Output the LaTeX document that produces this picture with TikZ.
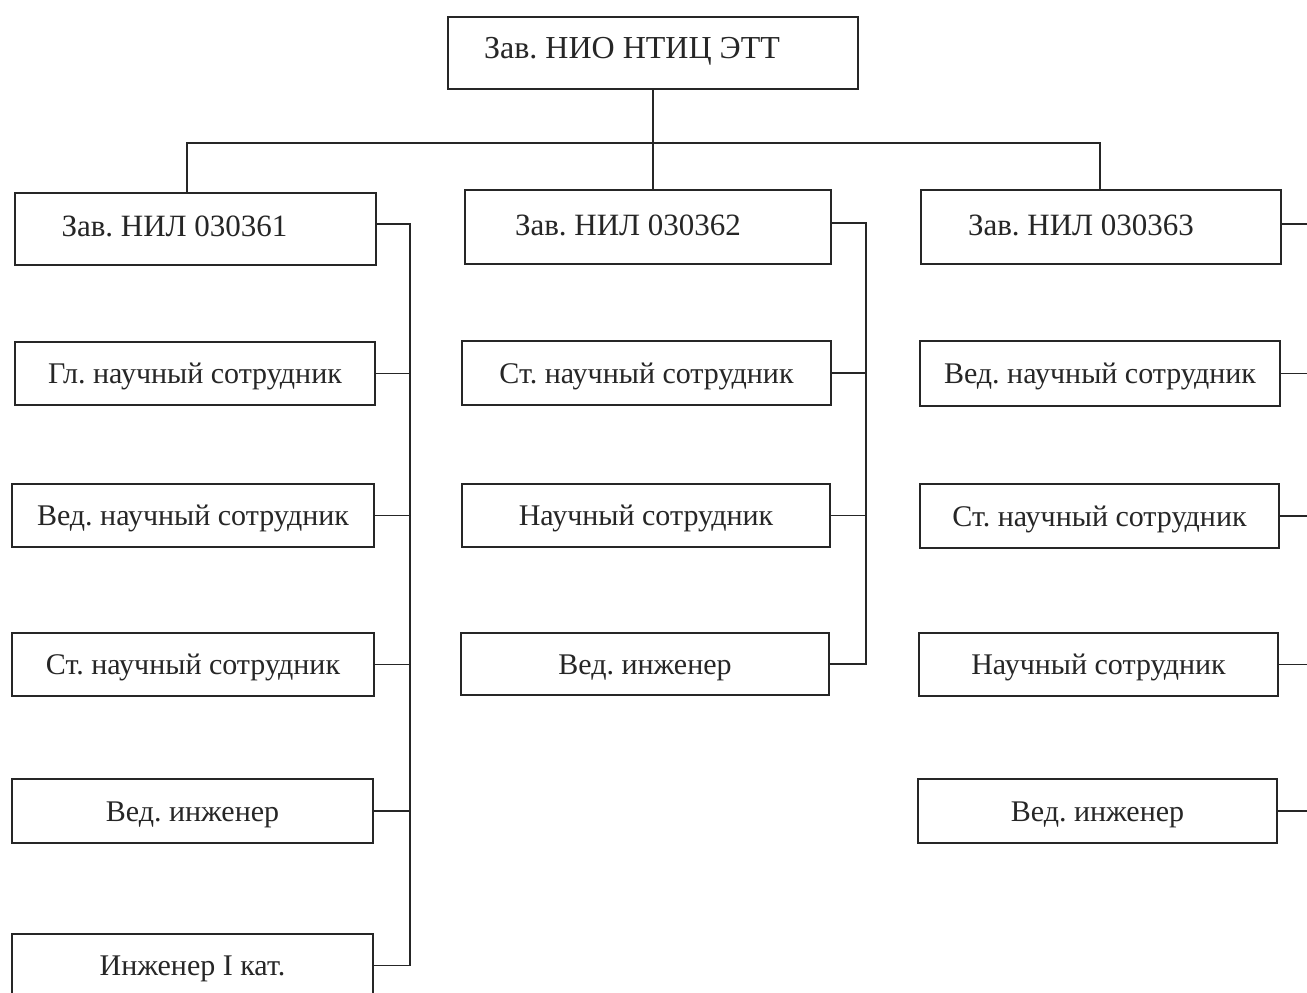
\documentclass[tikz,border=0pt]{standalone}
\usepackage{fontspec}
\setmainfont{Liberation Serif}
\frenchspacing
\begin{document}
\begin{tikzpicture}[x=1pt,y=-1pt,
  line width=1.9pt, color=black!85,
  box/.style={draw, rectangle, inner sep=0pt, text height=24pt, text depth=4pt,
    font=\fontsize{30}{33}\selectfont},
  head/.style={draw, rectangle, inner sep=0pt},
  conn/.style={line width=1.9pt}]
\useasboundingbox (0,0) rectangle (1307,993);
\clip (0,0) rectangle (1307,993);
\fill[white] (0,0) rectangle (1307,993);
% top
\node[head, minimum width=410pt, minimum height=72pt,
  label={[xshift=-21pt,yshift=2pt,font=\fontsize{32}{36}\selectfont]center:Зав. НИО НТИЦ ЭТТ}] (T) at (653,53) {};
% column A
\node[head, minimum width=361pt, minimum height=72pt,
  label={[xshift=-21pt,yshift=3pt,font=\fontsize{31}{35}\selectfont]center:Зав. НИЛ 030361}] (A0) at (195.5,229) {};
\node[box, minimum width=360pt, minimum height=63pt] (A1) at (195,373.5) {Гл. научный сотрудник};
\node[box, minimum width=362pt, minimum height=63pt] (A2) at (193,515.5) {Вед. научный сотрудник};
\node[box, minimum width=362pt, minimum height=63pt] (A3) at (193,664.5) {Ст. научный сотрудник};
\node[box, minimum width=361pt, minimum height=64pt] (A4) at (192.5,811) {Вед. инженер};
\node[box, minimum width=361pt, minimum height=63pt] (A5) at (192.5,965.5) {Инженер I кат.};
% column B
\node[head, minimum width=366pt, minimum height=74pt,
  label={[xshift=-20pt,yshift=2pt,font=\fontsize{31}{35}\selectfont]center:Зав. НИЛ 030362}] (B0) at (648,227) {};
\node[box, minimum width=369pt, minimum height=64pt] (B1) at (646.5,373) {Ст. научный сотрудник};
\node[box, minimum width=368pt, minimum height=63pt] (B2) at (646,515.5) {Научный сотрудник};
\node[box, minimum width=368pt, minimum height=62pt] (B3) at (645,664) {Вед. инженер};
% column C
\node[head, minimum width=360pt, minimum height=74pt,
  label={[xshift=-20pt,yshift=2pt,font=\fontsize{31}{35}\selectfont]center:Зав. НИЛ 030363}] (C0) at (1101,227) {};
\node[box, minimum width=360pt, minimum height=65pt] (C1) at (1100,373.5) {Вед. научный сотрудник};
\node[box, minimum width=359pt, minimum height=64pt] (C2) at (1099.5,516) {Ст. научный сотрудник};
\node[box, minimum width=359pt, minimum height=63pt] (C3) at (1098.5,664.5) {Научный сотрудник};
\node[box, minimum width=359pt, minimum height=64pt] (C4) at (1097.5,811) {Вед. инженер};
% top tree
\coordinate (busL) at (187,143);
\coordinate (busR) at (1100,143);
\draw[conn] (T.south) -- (T.south |- B0.north);
\draw[conn] ([xshift=-8.5pt]A0.north) -- (busL) -- (busR) -- (busR |- C0.north);
% column A bus
\coordinate (aBus) at (410,0);
\draw[conn] ([yshift=5pt]A0.east) -| (aBus |- A5.east) -- (A5.east);
\foreach \n in {A1,A2,A3,A4} \draw[conn] (\n.east) -- (aBus |- \n.east);
% column B bus
\coordinate (bBus) at (866,0);
\draw[conn] ([yshift=4pt]B0.east) -| (bBus |- B3.east) -- (B3.east);
\foreach \n in {B1,B2} \draw[conn] (\n.east) -- (bBus |- \n.east);
% column C stubs to the edge
\coordinate (cBus) at (1315,0);
\coordinate (C0e) at ([yshift=3pt]C0.east);
\draw[conn] (C0e) -- (cBus |- C0e);
\foreach \n in {C1,C2,C3,C4} \draw[conn] (\n.east) -- (cBus |- \n.east);
\end{tikzpicture}
\end{document}
